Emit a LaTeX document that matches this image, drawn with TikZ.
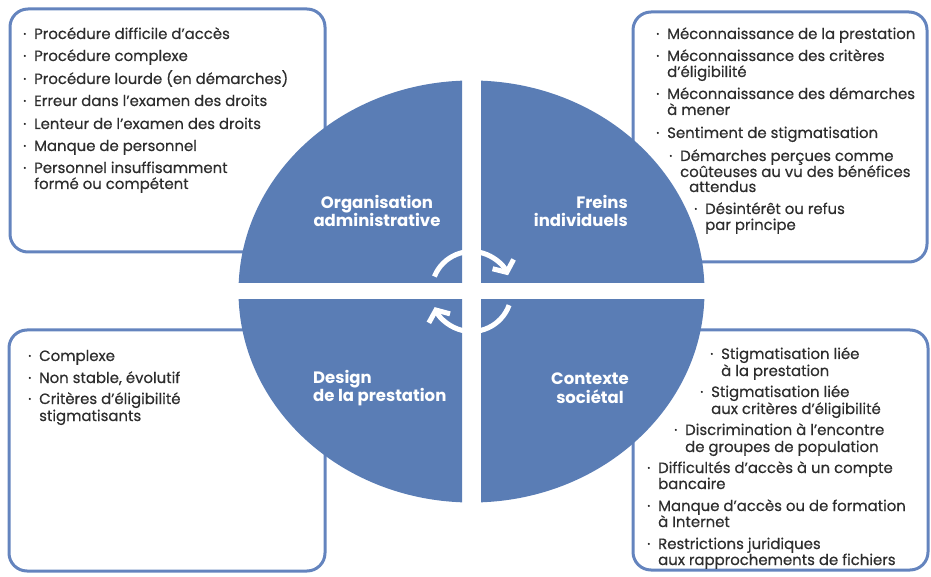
\documentclass[tikz,border=0pt]{standalone}
\usepackage{fontspec}
\setmainfont{Poppins}
\newfontfamily\bodyfont{Poppins}[FakeBold=0.5]
\usepackage{tikz}
\usetikzlibrary{arrows.meta}
\definecolor{quadblue}{RGB}{90,125,181}
\definecolor{boxblue}{RGB}{100,132,190}
\definecolor{txtgray}{RGB}{45,45,45}
\newcommand{\bt}{\makebox[11pt][l]{·}}

\begin{document}
\begin{tikzpicture}[x=1pt,y=1pt]
\tikzstyle{frame}=[draw=boxblue, line width=3pt, rounded corners=18pt]
\tikzstyle{quad}=[fill=quadblue]
\tikzstyle{itm}=[anchor=base west, inner sep=0pt, text=txtgray, font=\bodyfont\fontsize{14.9}{16}\selectfont]
\tikzstyle{qtitle}=[text=white, inner sep=0pt, font=\bfseries\fontsize{16.5}{18.5}\selectfont]
\tikzstyle{turnarrow}=[draw=white, line width=5pt, -{Straight Barb[length=9pt,width=23pt]}]
\useasboundingbox (0,0) rectangle (931,576);

% the four boxes
\draw[frame] (10,567) rectangle (325,324);
\draw[frame] (633,564) rectangle (927,314);
\draw[frame] (9,246) rectangle (325,5);
\draw[frame] (633,246) rectangle (928,6);

% the circle in four parts
\coordinate (c) at (471.5,284.5);
\begin{scope} \clip (0,293) rectangle (462,576); \fill[quad] (c) ellipse [x radius=233, y radius=211]; \end{scope}
\begin{scope} \clip (481,293) rectangle (931,576); \fill[quad] (c) ellipse [x radius=233, y radius=211]; \end{scope}
\begin{scope} \clip (0,0) rectangle (462,276); \fill[quad] (c) ellipse [x radius=233, y radius=211]; \end{scope}
\begin{scope} \clip (481,0) rectangle (931,276); \fill[quad] (c) ellipse [x radius=233, y radius=211]; \end{scope}

\node[qtitle, align=center] (orga) at (377,365) {Organisation\\administrative};
\node[qtitle, align=right, anchor=east] (freins) at (628,365) {Freins\\individuels};
\node[qtitle, align=left, anchor=west] (design) at (313,188) {Design\\de la prestation};
\node[qtitle, align=center] (contexte) at (590,188) {Contexte\\sociétal};

% arrows in the middle
\draw[turnarrow] ([shift={(158:40)}]c) arc[start angle=158, end angle=24, radius=40];
\draw[turnarrow] ([shift={(-20:40)}]c) arc[start angle=-20, end angle=-157, radius=40];

% texts of the boxes
\foreach \x/\y/\t [count=\i] in {23/33/{\bt Procédure difficile d’accès}, 23/55/{\bt Procédure complexe},
  23/78/{\bt Procédure lourde (en démarches)}, 23/100/{\bt Erreur dans l’examen des droits},
  23/123/{\bt Lenteur de l’examen des droits}, 23/145/{\bt Manque de personnel},
  23/167/{\bt Personnel insuffisamment}, 34/183/{formé ou compétent}}
  \node[itm] (tl\i) at (\x,570-\y) {\t};

\foreach \x/\y/\t [count=\i] in {656/33/{\bt Méconnaissance de la prestation}, 656/55/{\bt Méconnaissance des critères},
  667/71/{d’éligibilité}, 656/93/{\bt Méconnaissance des démarches}, 667/109/{à mener},
  656/132/{\bt Sentiment de stigmatisation}, 669/155/{\bt Démarches perçues comme},
  680/171/{coûteuses au vu des bénéfices}, 689/186/{attendus},
  694/208/{\bt Désintérêt ou refus}, 705/224/{par principe}}
  \node[itm] (tr\i) at (\x,570-\y) {\t};

\foreach \x/\y/\t [count=\i] in {28/355/{\bt Complexe}, 28/377/{\bt Non stable, évolutif},
  28/398/{\bt Critères d’éligibilité}, 39/415/{stigmatisants}}
  \node[itm] (bl\i) at (\x,570-\y) {\t};

\foreach \x/\y/\t [count=\i] in {710/353/{\bt Stigmatisation liée}, 721/370/{à la prestation},
  700/391/{\bt Stigmatisation liée}, 711/408/{aux critères d’éligibilité},
  674/429/{\bt Discrimination à l’encontre}, 685/446/{de groupes de population},
  647/467/{\bt Difficultés d’accès à un compte}, 658/483/{bancaire},
  647/505/{\bt Manque d’accès ou de formation}, 658/521/{à Internet},
  647/543/{\bt Restrictions juridiques}, 658/559/{aux rapprochements de fichiers}}
  \node[itm] (br\i) at (\x,570-\y) {\t};
\end{tikzpicture}
\end{document}
